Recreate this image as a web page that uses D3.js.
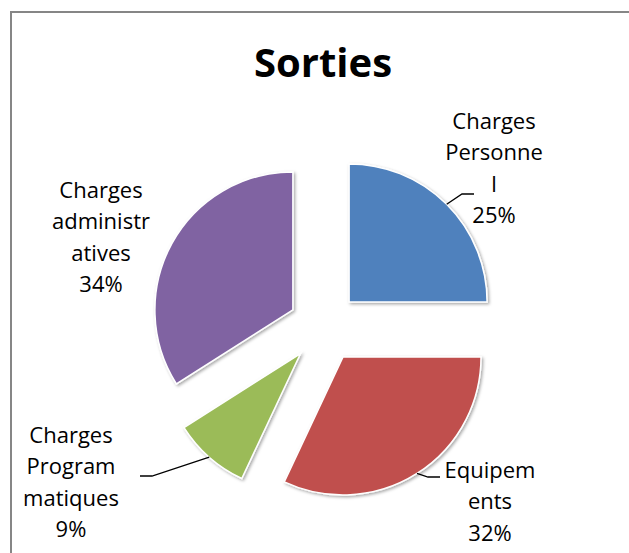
<!DOCTYPE html>
<html>
<head>
<meta charset="utf-8">
<script src="https://cdn.jsdelivr.net/npm/d3@7"></script>
<style>
  html, body { margin: 0; padding: 0; background: #fff; }
  svg { display: block; }
</style>
</head>
<body>
<svg id="chart" width="629" height="553"></svg>
<script>
// ---- data ----
const title = "Sorties";
const categories = ["Charges Personnel", "Equipements", "Charges Programmatiques", "Charges administratives"];
const values = [25, 32, 9, 34];
const labelLines = [
  ["Charges", "Personne", "l"],
  ["Equipem", "ents"],
  ["Charges", "Program", "matiques"],
  ["Charges", "administr", "atives"]
];
const colors = ["#4F81BD", "#C0504D", "#9BBB59", "#8064A2"];

// ---- layout ----
const W = 629, H = 553;
const cx = 324, cy = 327, radius = 138, explode = 35.5;
const lineH = 31.4;
// label block: centre x, first baseline y ; leader: elbow and end points
const labelLayout = [
  { x: 494, y: 129, leader: [[462, 194], [474, 194]] },
  { x: 490, y: 478, leader: [[428, 477], [440, 477]] },
  { x: 71,  y: 443, leader: [[152, 476], [140, 476]] },
  { x: 101, y: 198, leader: null }
];

const svg = d3.select("#chart");

// drop shadow
const defs = svg.append("defs");
const f = defs.append("filter").attr("id", "shadow")
  .attr("x", "-20%").attr("y", "-20%").attr("width", "140%").attr("height", "140%");
f.append("feDropShadow").attr("dx", 1.5).attr("dy", 1.5)
  .attr("stdDeviation", 1.6).attr("flood-color", "#000").attr("flood-opacity", 0.35);

// chart area border (only top and left visible in the crop)
svg.append("path")
  .attr("d", `M11,${H + 5} L11,12 L${W + 5},12`)
  .attr("fill", "none").attr("stroke", "#868686").attr("stroke-width", 2);

// title
svg.append("text")
  .attr("x", 323).attr("y", 77)
  .attr("text-anchor", "middle")
  .attr("font-family", "'Open Sans', sans-serif")
  .attr("font-weight", "bold")
  .attr("font-size", 40)
  .attr("fill", "#000")
  .text(title);

const pie = d3.pie().sort(null).value(d => d)(values);
const arc = d3.arc().innerRadius(0).outerRadius(radius);
const edgeArc = d3.arc().innerRadius(radius).outerRadius(radius);

const slices = svg.append("g").attr("transform", `translate(${cx},${cy})`);

slices.selectAll("path.slice")
  .data(pie)
  .join("path")
  .attr("class", "slice")
  .attr("transform", d => {
    const a = (d.startAngle + d.endAngle) / 2;
    return `translate(${explode * Math.sin(a)},${-explode * Math.cos(a)})`;
  })
  .attr("d", arc)
  .attr("fill", (d, i) => colors[i])
  .attr("stroke", "#fff")
  .attr("stroke-width", 1.5)
  .attr("filter", "url(#shadow)");

// leader lines
pie.forEach((d, i) => {
  const L = labelLayout[i];
  if (!L.leader) return;
  const a = (d.startAngle + d.endAngle) / 2;
  const start = [cx + (explode + radius) * Math.sin(a), cy - (explode + radius) * Math.cos(a)];
  const pts = [start].concat(L.leader);
  svg.append("path")
    .attr("d", d3.line()(pts))
    .attr("fill", "none")
    .attr("stroke", "#000")
    .attr("stroke-width", 1.3);
});

// labels
const fmt = v => Math.round(v / d3.sum(values) * 100) + "%";
pie.forEach((d, i) => {
  const L = labelLayout[i];
  const lines = labelLines[i].concat([fmt(d.value)]);
  const t = svg.append("text")
    .attr("text-anchor", "middle")
    .attr("font-family", "'Open Sans', sans-serif")
    .attr("font-size", 22)
    .attr("fill", "#000");
  lines.forEach((s, k) => {
    t.append("tspan").attr("x", L.x).attr("y", L.y + k * lineH).text(s);
  });
});
</script>
</body>
</html>
